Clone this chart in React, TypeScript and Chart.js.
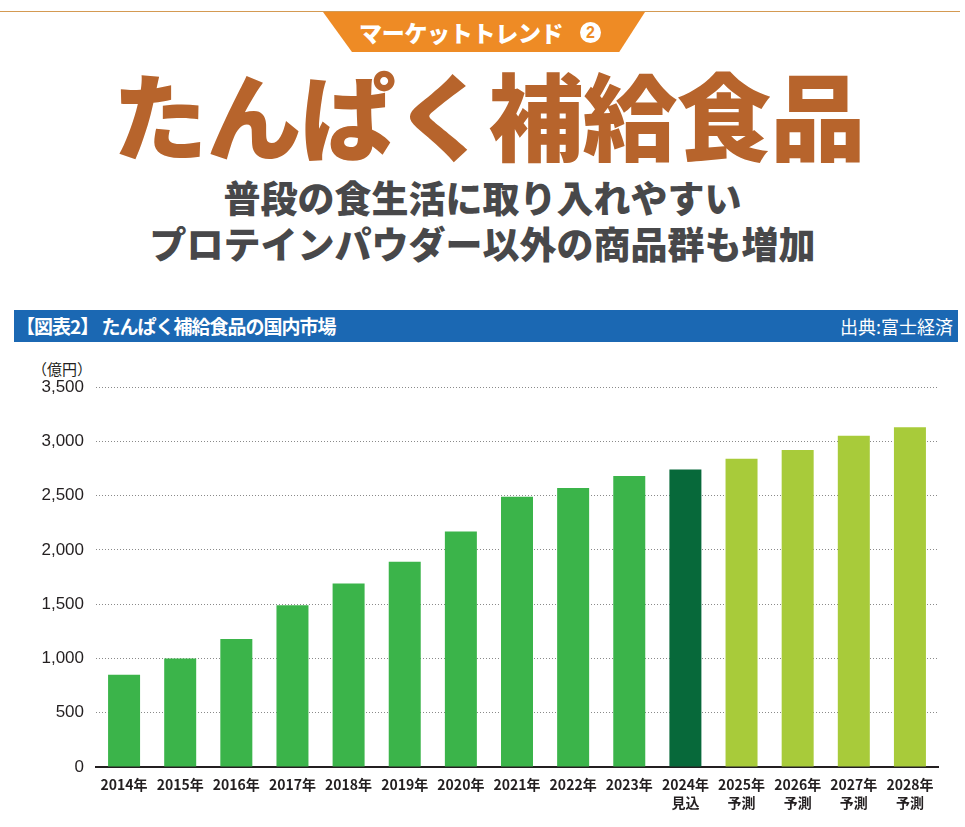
import React, { useEffect, useRef } from "react";
import { Chart, registerables } from "chart.js";

Chart.register(...registerables);

const years = ["2014年", "2015年", "2016年", "2017年", "2018年", "2019年", "2020年", "2021年", "2022年", "2023年", "2024年", "2025年", "2026年", "2027年", "2028年"];
const subLabels = ["", "", "", "", "", "", "", "", "", "", "見込", "予測", "予測", "予測", "予測"];
const marketValues = [850, 1000, 1180, 1490, 1690, 1890, 2170, 2490, 2570, 2680, 2740, 2840, 2920, 3050, 3130];
const yTicks = [0, 500, 1000, 1500, 2000, 2500, 3000, 3500];

const COLOR_ACTUAL = "#3BB44A";
const COLOR_ESTIMATE = "#07693A";
const COLOR_FORECAST = "#A8CB3A";

const JP = '"Noto Sans CJK JP", "Noto Sans", sans-serif';

export default function App() {
  const canvasRef = useRef<HTMLCanvasElement | null>(null);

  useEffect(() => {
    const canvas = canvasRef.current;
    if (!canvas) return;
    const labels = years.map((y, i) => (subLabels[i] ? [y, subLabels[i]] : y));
    const colors = subLabels.map((s) => (s === "見込" ? COLOR_ESTIMATE : s === "予測" ? COLOR_FORECAST : COLOR_ACTUAL));
    const chart = new Chart(canvas, {
      type: "bar",
      data: {
        labels,
        datasets: [
          {
            data: marketValues,
            backgroundColor: colors,
            borderWidth: 0,
            barPercentage: 0.57,
            categoryPercentage: 1,
          },
        ],
      },
      options: {
        responsive: false,
        animation: false,
        maintainAspectRatio: false,
        layout: { padding: { top: 42, right: 27, left: 0, bottom: 0 } },
        plugins: { legend: { display: false }, tooltip: { enabled: false }, title: { display: false } },
        scales: {
          x: {
            afterFit: (scale: any) => {
              scale.height = 60;
            },
            grid: { display: false, drawTicks: false },
            border: { display: true, color: "#231F20", width: 2 },
            ticks: {
              color: "#231F20",
              padding: 9,
              maxRotation: 0,
              autoSkip: false,
              font: { family: JP, size: 14, weight: "bold", lineHeight: 1.25 },
            },
          },
          y: {
            min: 0,
            max: 3500,
            afterFit: (scale: any) => {
              scale.width = 96;
            },
            afterBuildTicks: (scale: any) => {
              scale.ticks = yTicks.map((v) => ({ value: v }));
            },
            border: { display: false, dash: [1, 2] },
            grid: { color: "#8A8A8A", lineWidth: 1, drawTicks: false },
            ticks: {
              color: "#231F20",
              padding: 12,
              font: { family: '"Liberation Sans", Arial, sans-serif', size: 17 },
              callback: (v: any) => Number(v).toLocaleString("en-US"),
            },
          },
        },
      },
    });
    return () => chart.destroy();
  }, []);

  const abs = (s: React.CSSProperties): React.CSSProperties => ({ position: "absolute", ...s });

  return (
    <div style={{ position: "fixed", left: 0, top: 0, width: 965, height: 827, background: "#fff", overflow: "hidden", fontFamily: JP }}>
      {/* top rule */}
      <div style={abs({ left: 0, top: 11, width: 960, height: 1, background: "#D49A52" })} />
      {/* orange banner */}
      <div
        style={abs({
          left: 323,
          top: 12,
          width: 322,
          height: 40,
          background: "#EE8B25",
          clipPath: "polygon(0 0, 100% 0, 92% 100%, 9% 100%)",
        })}
      />
      <div style={abs({ left: 359, top: 12, height: 40, lineHeight: "40px", color: "#fff", fontWeight: 900, fontSize: 23, whiteSpace: "nowrap", letterSpacing: "-0.3px" })}>
        マーケットトレンド
      </div>
      <div
        style={abs({
          left: 580,
          top: 22,
          width: 21,
          height: 21,
          borderRadius: "50%",
          background: "#fff",
          color: "#EE8B25",
          fontWeight: 700,
          fontSize: 16,
          lineHeight: "21px",
          textAlign: "center",
          fontFamily: '"Liberation Sans", Arial, sans-serif',
        })}
      >
        2
      </div>
      {/* title */}
      <div style={abs({ left: 6, top: 66, width: 965, textAlign: "center", color: "#B7642C", fontWeight: 900, fontSize: 95, lineHeight: "94px", whiteSpace: "nowrap", letterSpacing: "-1px" })}>
        たんぱく補給食品
      </div>
      {/* subtitle */}
      <div style={abs({ left: 0, top: 174, width: 965, textAlign: "center", color: "#48484A", fontWeight: 900, fontSize: 37, lineHeight: "46px", whiteSpace: "nowrap" })}>
        普段の食生活に取り入れやすい
        <br />
        プロテインパウダー以外の商品群も増加
      </div>
      {/* blue header bar */}
      <div style={abs({ left: 14, top: 310, width: 944, height: 32, background: "#1B68B3" })} />
      <div style={abs({ left: 16, top: 310, height: 32, lineHeight: "32px", color: "#fff", fontWeight: 700, fontSize: 19, letterSpacing: "-1px", whiteSpace: "nowrap" })}>
        【図表2】 たんぱく補給食品の国内市場
      </div>
      <div style={abs({ right: 12, top: 310, height: 32, lineHeight: "32px", color: "#fff", fontWeight: 400, fontSize: 18, whiteSpace: "nowrap" })}>
        出典:富士経済
      </div>
      {/* unit */}
      <div style={abs({ left: 32, top: 359, lineHeight: "20px", color: "#231F20", fontSize: 15, whiteSpace: "nowrap" })}>（億円）</div>
      <canvas ref={canvasRef} width={965} height={482} style={abs({ left: 0, top: 345, width: 965, height: 482 })} />
    </div>
  );
}
